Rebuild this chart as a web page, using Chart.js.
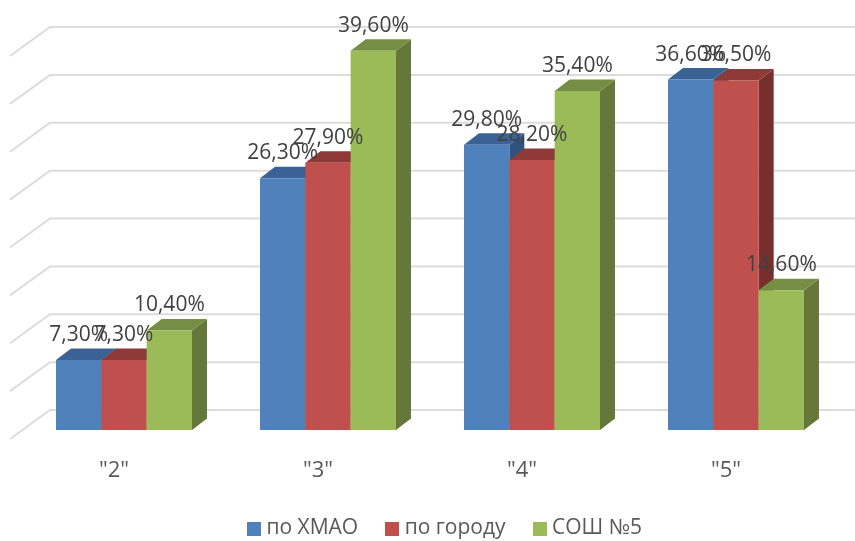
<!DOCTYPE html>
<html>
<head>
<meta charset="utf-8">
<script src="https://cdn.jsdelivr.net/npm/chart.js@4/dist/chart.umd.min.js"></script>
<style>
body { margin: 0; background: #fff; }
canvas { display: block; }
</style>
</head>
<body>
<canvas id="marksChart" width="855" height="541"></canvas>
<script>
const categories = ['"2"', '"3"', '"4"', '"5"'];
const seriesNames = ['по ХМАО', 'по городу', 'СОШ №5'];
const hmao = [7.3, 26.3, 29.8, 36.6];
const city = [7.3, 27.9, 28.2, 36.5];
const school = [10.4, 39.6, 35.4, 14.6];

const frontColors = ['#4f81bd', '#c0504d', '#9bbb59'];
const topColors = ['#3b6294', '#8f3a38', '#768e44'];
const sideColors = ['#2f527e', '#772f2e', '#65783a'];

const fontName = '"Open Sans", sans-serif';
const depthX = 15, depthY = -11.5;

function fillShape(ctx, color, pts) {
    ctx.fillStyle = color;
    ctx.beginPath();
    ctx.moveTo(pts[0][0], pts[0][1]);
    for (let i = 1; i < pts.length; i++) ctx.lineTo(pts[i][0], pts[i][1]);
    ctx.closePath();
    ctx.fill();
}

// small canvas used as legend marker, so the text can sit closer to the square
function swatch(color) {
    const c = document.createElement('canvas');
    c.width = 14;
    c.height = 14;
    const g = c.getContext('2d');
    g.fillStyle = color;
    g.fillRect(0, 0, 14, 14);
    return c;
}
const swatches = frontColors.map(swatch);

// the 3D look: back walls, bar sides and tops, then the value labels
const fake3d = {
    id: 'fake3d',
    afterLayout(chart) {
        chart.legend.left += 17;
        chart.legend.right += 17;
        chart.legend.top += 8;
        chart.legend.bottom += 8;
    },
    beforeDatasetsDraw(chart) {
        const ctx = chart.ctx, y = chart.scales.y;
        ctx.save();
        ctx.strokeStyle = '#dcdcdc';
        ctx.lineWidth = 2;
        y.ticks.forEach(t => {
            const py = y.getPixelForValue(t.value);
            ctx.beginPath();
            ctx.moveTo(10, py + 9);
            ctx.lineTo(50, py - 20);
            ctx.lineTo(855, py - 20);
            ctx.stroke();
        });
        ctx.restore();
    },
    beforeDatasetDraw() {
        return false;
    },
    afterDatasetsDraw(chart) {
        const ctx = chart.ctx;
        ctx.save();
        chart.data.datasets.forEach((ds, i) => {
            chart.getDatasetMeta(i).data.forEach(bar => {
                const l = bar.x - bar.width / 2, r = bar.x + bar.width / 2;
                fillShape(ctx, sideColors[i], [[r, bar.y], [r + depthX, bar.y + depthY], [r + depthX, bar.base + depthY], [r, bar.base]]);
                fillShape(ctx, topColors[i], [[l, bar.y], [l + depthX, bar.y + depthY], [r + depthX, bar.y + depthY], [r, bar.y]]);
                bar.draw(ctx);
            });
        });
        ctx.fillStyle = '#404040';
        ctx.font = '21px ' + fontName;
        ctx.textAlign = 'center';
        ctx.textBaseline = 'middle';
        chart.data.datasets.forEach((ds, i) => {
            chart.getDatasetMeta(i).data.forEach((bar, j) => {
                ctx.fillText(ds.data[j].toFixed(2).replace('.', ',') + '%', bar.x, bar.y - 25);
            });
        });
        ctx.restore();
    }
};

new Chart(document.getElementById('marksChart'), {
    type: 'bar',
    data: {
        labels: categories,
        datasets: [
            { label: seriesNames[0], data: hmao, backgroundColor: frontColors[0] },
            { label: seriesNames[1], data: city, backgroundColor: frontColors[1] },
            { label: seriesNames[2], data: school, backgroundColor: frontColors[2] }
        ]
    },
    options: {
        responsive: false,
        animation: false,
        layout: { padding: { left: 22, right: 17, top: 47 } },
        datasets: { bar: { categoryPercentage: 0.6667, barPercentage: 1 } },
        scales: {
            x: {
                grid: { display: false },
                border: { display: false },
                ticks: { color: '#595959', font: { family: fontName, size: 22 }, padding: 20, labelOffset: -10 },
                afterFit(scale) { scale.height = 48; }
            },
            y: {
                display: false,
                min: 0,
                max: 40,
                ticks: { stepSize: 5 }
            }
        },
        plugins: {
            legend: {
                position: 'bottom',
                labels: {
                    color: '#595959',
                    font: { family: fontName, size: 21 },
                    usePointStyle: true,
                    pointStyleWidth: 4,
                    boxWidth: 14,
                    boxHeight: 14,
                    padding: 32,
                    generateLabels(chart) {
                        return Chart.defaults.plugins.legend.labels.generateLabels(chart)
                            .map(l => ({ ...l, pointStyle: swatches[l.datasetIndex] }));
                    }
                }
            },
            tooltip: { enabled: false }
        }
    },
    plugins: [fake3d]
});
</script>
</body>
</html>
